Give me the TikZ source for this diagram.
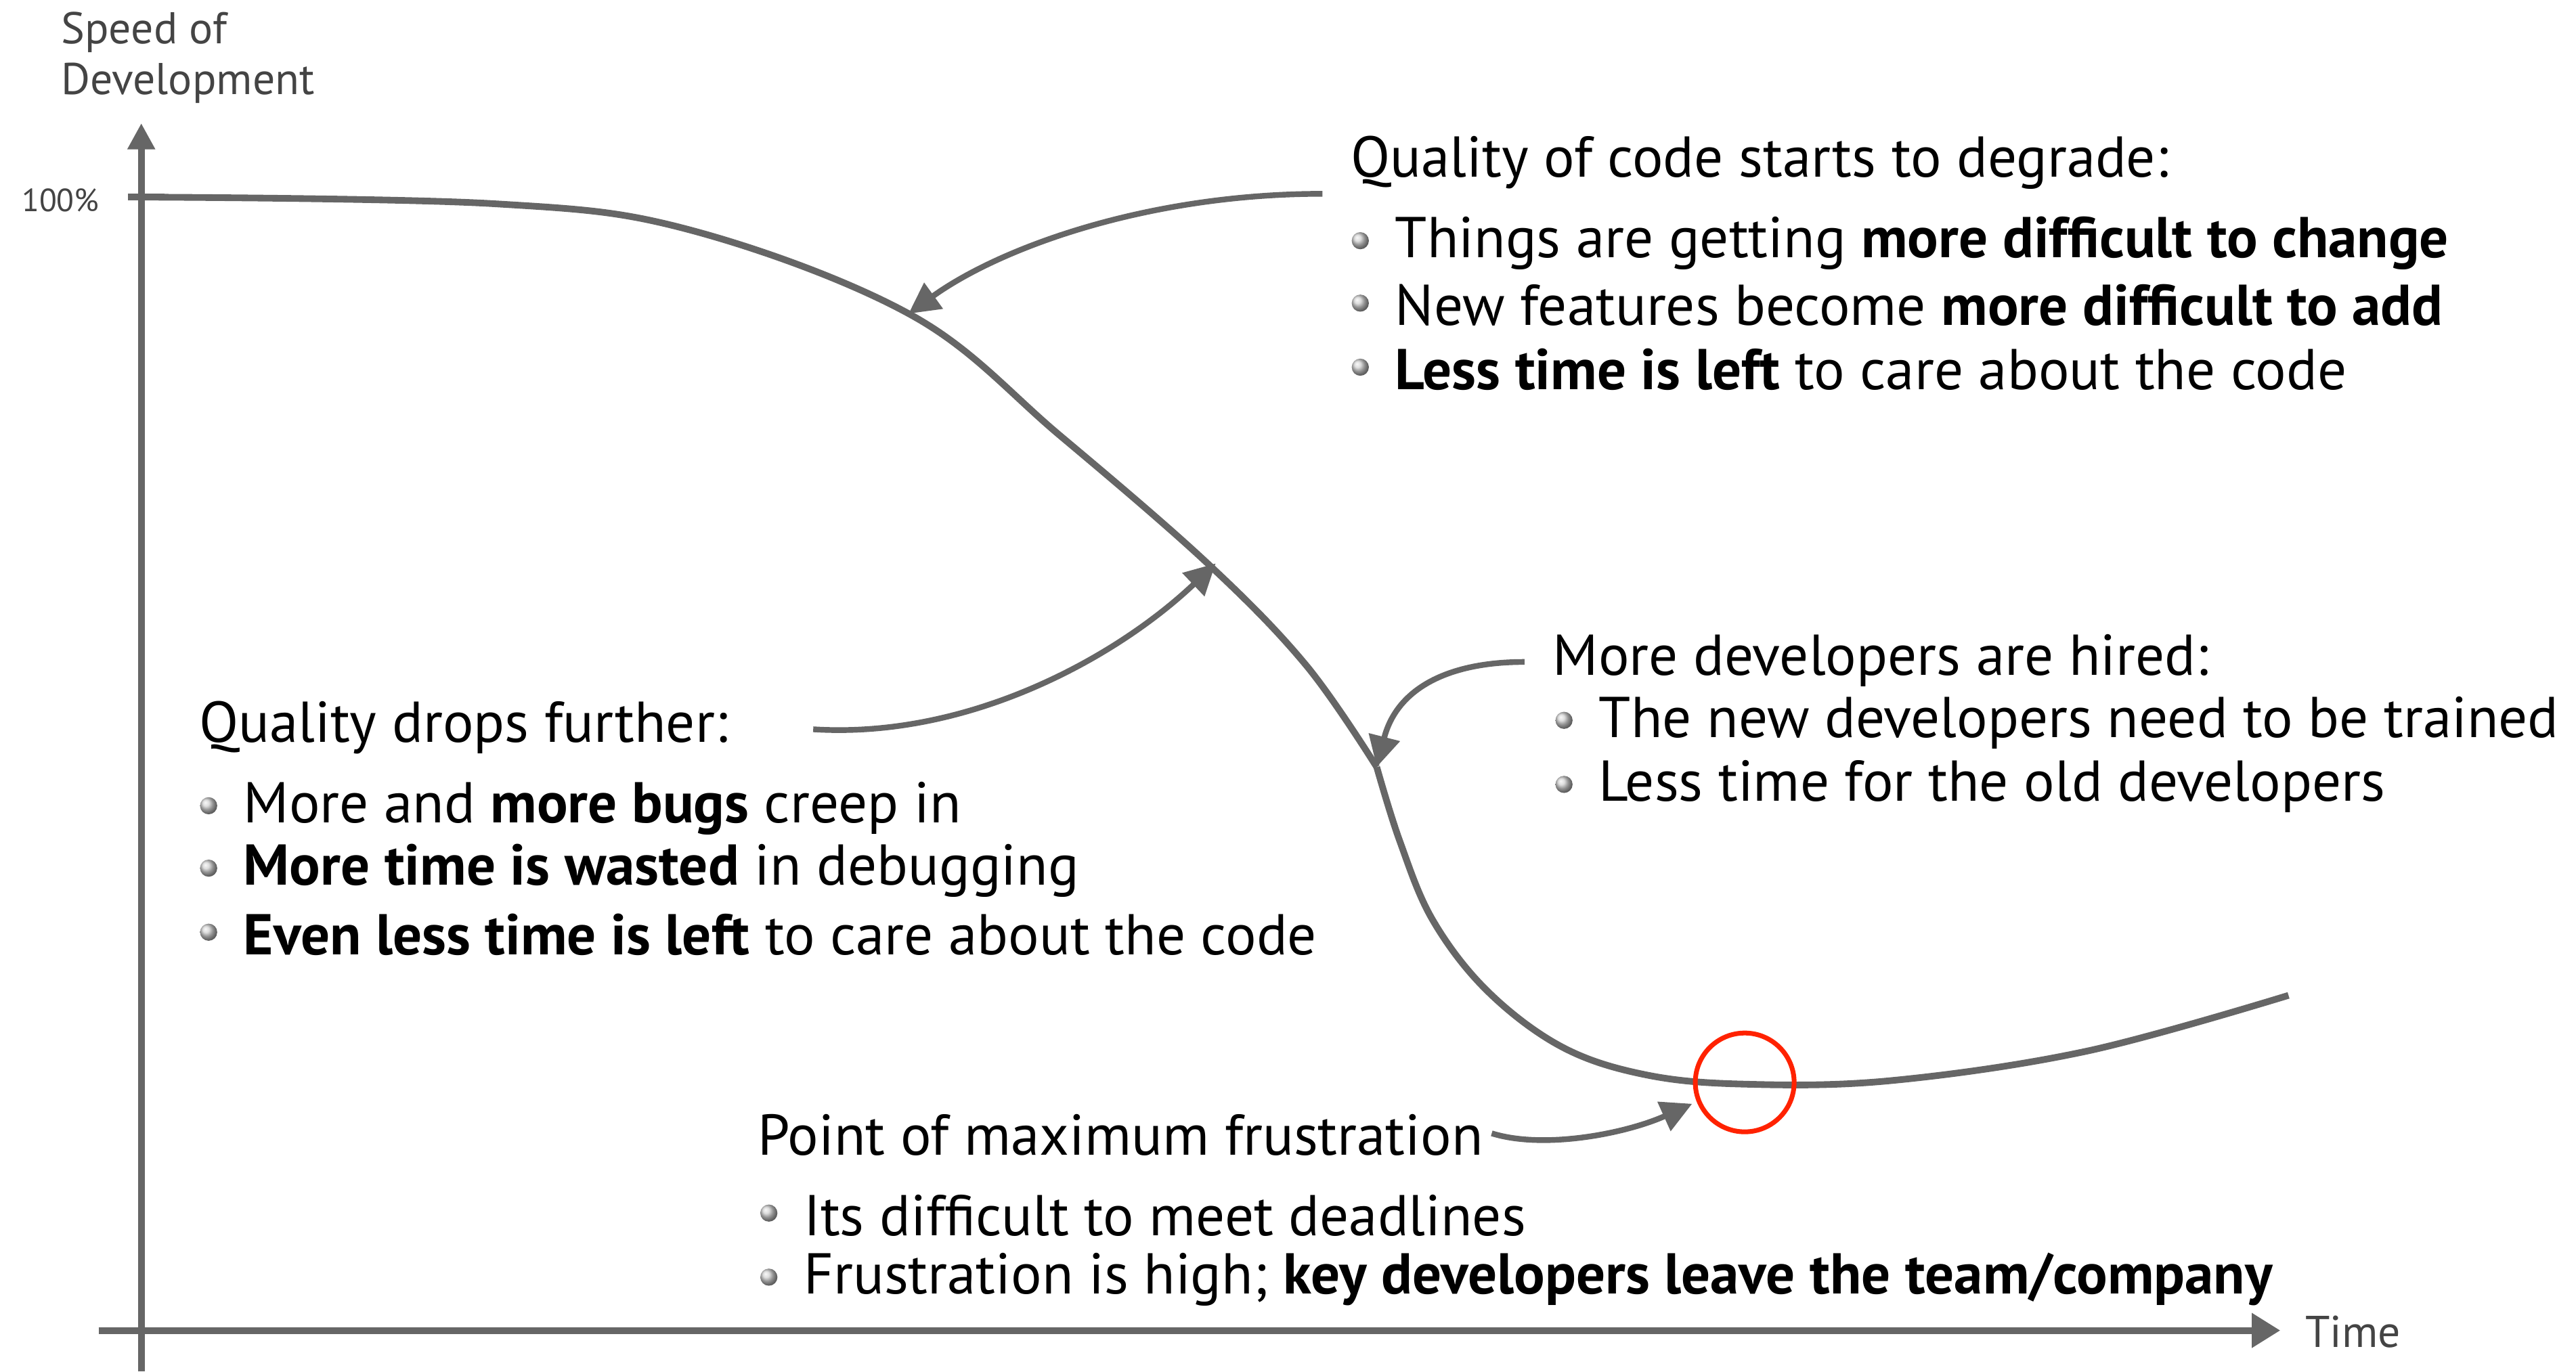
\documentclass[tikz,border=0pt]{standalone}
\usepackage{fontspec}
\setmainfont{PT Sans}
\usetikzlibrary{arrows.meta}
\definecolor{linegray}{HTML}{666666}
\definecolor{labelgray}{HTML}{444444}
\definecolor{markred}{HTML}{FF2200}
\newcommand\bodyfont{\fontsize{24.2}{28}\selectfont}
\newcommand\axisfont{\fontsize{18.7}{21.3}\selectfont}
\tikzset{
  axis/.style={line width=2.8pt, color=linegray, -{Triangle[length=11pt,width=11pt]}},
  curve/.style={line width=2.8pt, color=linegray, line join=round},
  annot/.style={line width=2.4pt, color=linegray, -{Triangle[length=13pt,width=13pt]}},
  head/.style={anchor=west, inner sep=0pt, font=\bodyfont},
  item/.style={anchor=west, inner sep=0pt, font=\bodyfont},
  axlabel/.style={anchor=west, inner sep=0pt, text=labelgray, font=\axisfont, align=left},
}
\begin{document}
\begin{tikzpicture}[x=0.24267mm,y=-0.24267mm]
\useasboundingbox (0,0) rectangle (1568,835);
% axes
\coordinate (origin) at (86,810);
\coordinate (ybot) at (86,835);
\coordinate (ytip) at (86,75);
\coordinate (xleft) at (60,810);
\coordinate (xtip) at (1388,810);
\draw[axis] (ybot) -- (ytip);
\draw[axis, -{Triangle[length=12pt,width=14pt]}] (xleft) -- (xtip);
\draw[curve] (78,120) -- (100,120);
\node[axlabel] (speed) at (37,35) {Speed of\\Development};
\node[axlabel, font=\fontsize{13.5}{16}\selectfont] (hundred) at (13,122) {100\%};
\node[axlabel, anchor=west] (time) at (1403,811) {Time};
% the curve, in two pieces meeting at the hiring point
\coordinate (deg) at (553,191);
\coordinate (drop) at (740,343);
\coordinate (hire) at (838,467);
\coordinate (low) at (1030,672);
\draw[curve] plot[smooth, tension=0.6] coordinates {
  (86,120) (300,124) (420,140) (555,192) (645,265) (735,343) (795,405)
  (838,467)};
\draw[curve] plot[smooth, tension=0.6] coordinates {
  (838,467) (852,512) (872,560) (905,603) (950,637) (1000,654) (1060,660)
  (1150,658) (1270,640) (1393,606)};
\node[draw=markred, line width=2pt, circle, minimum size=14.6mm, inner sep=0pt] (frust) at (1062,659) {};
% texts
\node[head] (degrade) at (822,99) {Quality of code starts to degrade:};
\node[item] (a1) at (849,148) {Things are getting \textbf{more difficult to change}};
\node[item] (a2) at (849,186) {New features become \textbf{more difficult to add}};
\node[item] (a3) at (849,225) {\textbf{Less time is left} to care about the code};
\node[head] (further) at (121,443) {Quality drops further:};
\node[item] (b1) at (148,492) {More and \textbf{more bugs} creep in};
\node[item] (b2) at (148,530) {\textbf{More time is wasted} in debugging};
\node[item] (b3) at (148,569) {\textbf{Even less time is left} to care about the code};
\node[head] (hired) at (945,402) {More developers are hired:};
\node[item] (c1) at (973,440) {The new developers need to be trained};
\node[item] (c2) at (973,479) {Less time for the old developers};
\node[head] (maxfr) at (461,691) {Point of maximum frustration};
\node[item] (d1) at (489,740) {Its difficult to meet deadlines};
\node[item] (d2) at (489,779) {Frustration is high; \textbf{key developers leave the team/company}};
\foreach \n in {a1,a2,a3,b1,b2,b3,c1,c2,d1,d2}
  \shade[ball color=gray!35] ([xshift=-14.5pt,yshift=1pt]\n.west) circle (3.6pt);
% arrows to the curve
\coordinate (s1) at (805,118);
\coordinate (s2) at (495,444);
\coordinate (s3) at (928,403);
\coordinate (s4) at (908,690);
\draw[annot] (s1) .. controls (700,118) and (610,150) .. (deg);
\draw[annot] (s2) .. controls (590,450) and (680,400) .. (drop);
\draw[annot] (s3) .. controls (880,403) and (850,420) .. (hire);
\draw[annot] (s4) .. controls (940,700) and (990,690) .. (low);
\end{tikzpicture}
\end{document}
